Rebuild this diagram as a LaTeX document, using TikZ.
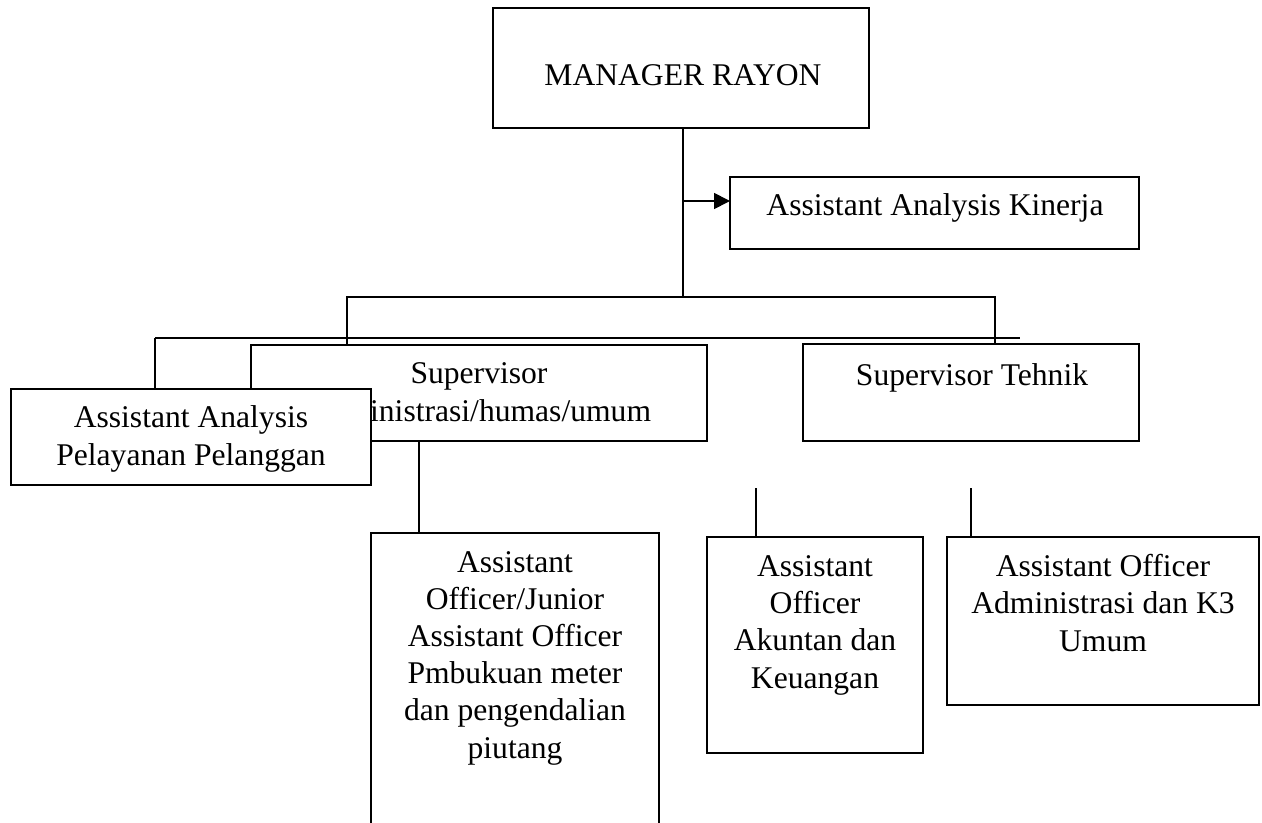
\documentclass[tikz,border=0pt]{standalone}
\usepackage{fontspec}
\setmainfont{Liberation Serif}
\usetikzlibrary{arrows.meta}
\begin{document}
\begin{tikzpicture}[x=0.75pt,y=-0.75pt,
  box/.style={draw, line width=1.3pt, inner sep=0pt, outer sep=0pt, fill=white},
  txt/.style={inner sep=0pt, align=center, anchor=base, font=\fontsize{23.7}{27.8}\selectfont},
  conn/.style={line width=1.3pt},
  thinconn/.style={line width=1pt},
  tip/.style={-{Triangle[length=12pt,width=12pt]}}
]
\path[use as bounding box] (0,0) rectangle (1262,823);
\clip (0,0) rectangle (1262,823);
\fill[white] (0,0) rectangle (1262,823);

% connector coordinates
\coordinate (b1L) at (347,297);
\coordinate (b1M) at (683,297);
\coordinate (b1R) at (995,297);
\coordinate (b2L) at (155,338);
\coordinate (b2R) at (1020,338);
\coordinate (ar) at (683,201);
\coordinate (c419) at (419,0);
\coordinate (ak) at (756,488);
\coordinate (kk) at (971,488);

% boxes
\node[box, minimum width=376*0.75pt, minimum height=120*0.75pt] (mgr) at (681,68) {};
\node[box, minimum width=409*0.75pt, minimum height=72*0.75pt] (kin) at (934.5,213) {};
\node[box, minimum width=456*0.75pt, minimum height=96*0.75pt] (supA) at (479,393) {};
\node[txt] (supA-t) at (479,421) {Supervisor\\Administrasi/humas/umum};
\node[box, minimum width=336*0.75pt, minimum height=97*0.75pt] (tek) at (971,392.5) {};
\node[box, minimum width=360*0.75pt, minimum height=96*0.75pt] (pel) at (191,437) {};
\node[box, minimum width=288*0.75pt, minimum height=367*0.75pt] (off) at (515,716.5) {};
\node[box, minimum width=216*0.75pt, minimum height=216*0.75pt] (akt) at (815,645) {};
\node[box, minimum width=312*0.75pt, minimum height=168*0.75pt] (k3) at (1103,621) {};

% connectors
\draw[conn] (mgr.south -| b1M) -- (b1M);
\draw[conn, tip] (ar) -- (ar -| kin.west);
\draw[conn] (supA.north -| b1L) -- (b1L) -- (b1R) -- (b1R |- tek.north);
\draw[conn] (pel.north -| b2L) -- (b2L);
\draw[thinconn] (b2L) -- (b2R);
\draw[conn] (supA.south -| c419) -- (off.north -| c419);
\draw[conn] (ak) -- (ak |- akt.north);
\draw[conn] (kk) -- (kk |- k3.north);

% texts
\node[txt] (mgr-t) at (683,86) {MANAGER RAYON};
\node[txt] (kin-t) at (935,216) {Assistant Analysis Kinerja};
\node[txt] (tek-t) at (972,385) {Supervisor Tehnik};
\node[txt] (pel-t) at (191,465) {Assistant Analysis\\Pelayanan Pelanggan};
\node[txt] (off-t) at (515,758) {Assistant\\Officer/Junior\\Assistant Officer\\Pmbukuan meter\\dan pengendalian\\piutang};
\node[txt] (akt-t) at (815,688) {Assistant\\Officer\\Akuntan dan\\Keuangan};
\node[txt] (k3-t) at (1103,651) {Assistant Officer\\Administrasi dan K3\\Umum};
\end{tikzpicture}
\end{document}
